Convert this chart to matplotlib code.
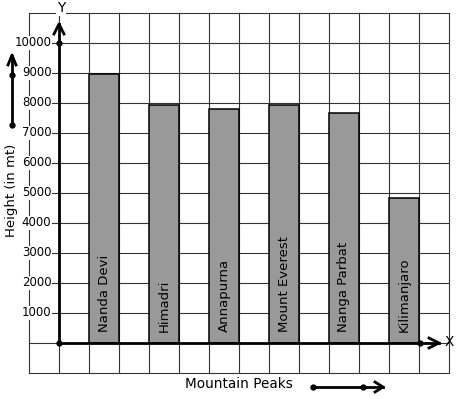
import matplotlib
matplotlib.use("Agg")
import matplotlib.pyplot as plt
from matplotlib.transforms import Affine2D

# data
peaks = ["Nanda Devi", "Himadri", "Annapurna", "Mount Everest", "Nanga Parbat", "Kilimanjaro"]
heights = [8970, 7930, 7790, 7930, 7660, 4830]
yticks = [1000, 2000, 3000, 4000, 5000, 6000, 7000, 8000, 9000, 10000]

W, H = 457, 399
fig = plt.figure(figsize=(W / 100, H / 100), dpi=100)
ax = fig.add_axes([0, 0, 1, 1])
ax.axis("off")
# 1 grid square = 1 unit across, 1000 up; origin at pixel (59, 343)
ax.set_xlim(-59 / 30, (W - 59) / 30)
ax.set_ylim((343 - H) / 0.03, 343 / 0.03)

# pixel transform for the decorations (origin top-left)
px = Affine2D().scale(1 / W, -1 / H).translate(0, 1) + fig.transFigure

fs = 9.8
gc = "#333333"
glw = 0.8

# grid
for gx in range(-1, 14):
    ax.plot([gx, gx], [-1000, 11000], color=gc, lw=glw, zorder=1)
for gy in [-1000, 0, 11000]:
    ax.plot([-1, 13], [gy, gy], color=gc, lw=glw, zorder=1)
for gy in yticks:
    ax.plot([0, 13], [gy, gy], color=gc, lw=glw, zorder=1)

# bars
xs = [1 + 2 * i for i in range(len(peaks))]
ax.bar(xs, heights, width=1, align="edge", color="#999999",
       edgecolor="black", linewidth=1.1, zorder=2)
for x, name in zip(xs, peaks):
    ax.text(x + 0.5, 370, name, rotation=90, ha="center", va="bottom",
            fontsize=9.5, zorder=3)

# y tick labels
for v in yticks:
    ax.text(-0.25, v, str(v), ha="right", va="center", fontsize=8.5, zorder=3,
            bbox=dict(facecolor="white", edgecolor="none", pad=0.5))
    ax.plot([-0.22, 0], [v, v], color=gc, lw=glw, zorder=3)

# axes with arrows
lw = 2.0
ax.plot([59, 59], [343, 24], color="black", lw=lw, transform=px, zorder=4)
ax.plot([54, 59, 64], [34, 24, 34], color="black", lw=lw, transform=px, zorder=4)
ax.plot([59, 439], [343, 343], color="black", lw=lw, transform=px, zorder=4)
ax.plot([429, 439, 429], [338, 343, 348], color="black", lw=lw, transform=px, zorder=4)
ax.plot([59, 59, 420], [43, 343, 343], "o", color="black", ms=3.5, transform=px, zorder=5)

ax.text(61, 8, "Y", ha="center", va="center", fontsize=fs, transform=px, zorder=5,
        bbox=dict(facecolor="white", edgecolor="none", pad=1))
ax.text(449, 342, "X", ha="center", va="center", fontsize=fs, transform=px, zorder=5)

# side arrow + label
ax.plot([12, 12], [125, 56], color="black", lw=lw, transform=px, zorder=4)
ax.plot([8, 12, 16], [65, 55, 65], color="black", lw=lw, transform=px, zorder=4)
ax.plot([12, 12], [75, 125], "o", color="black", ms=3.5, transform=px, zorder=5)
ax.text(12, 190, "Height (in mt)", rotation=90, ha="center", va="center",
        fontsize=9.5, transform=px, zorder=5)

# bottom arrow + label
ax.plot([313, 383], [387, 387], color="black", lw=lw, transform=px, zorder=4)
ax.plot([375, 383, 375], [382, 387, 392], color="black", lw=lw, transform=px, zorder=4)
ax.plot([313, 363], [387, 387], "o", color="black", ms=3.5, transform=px, zorder=5)
ax.text(239, 384, "Mountain Peaks", ha="center", va="center", fontsize=fs,
        transform=px, zorder=5)

fig.savefig("out.png", dpi=100)
